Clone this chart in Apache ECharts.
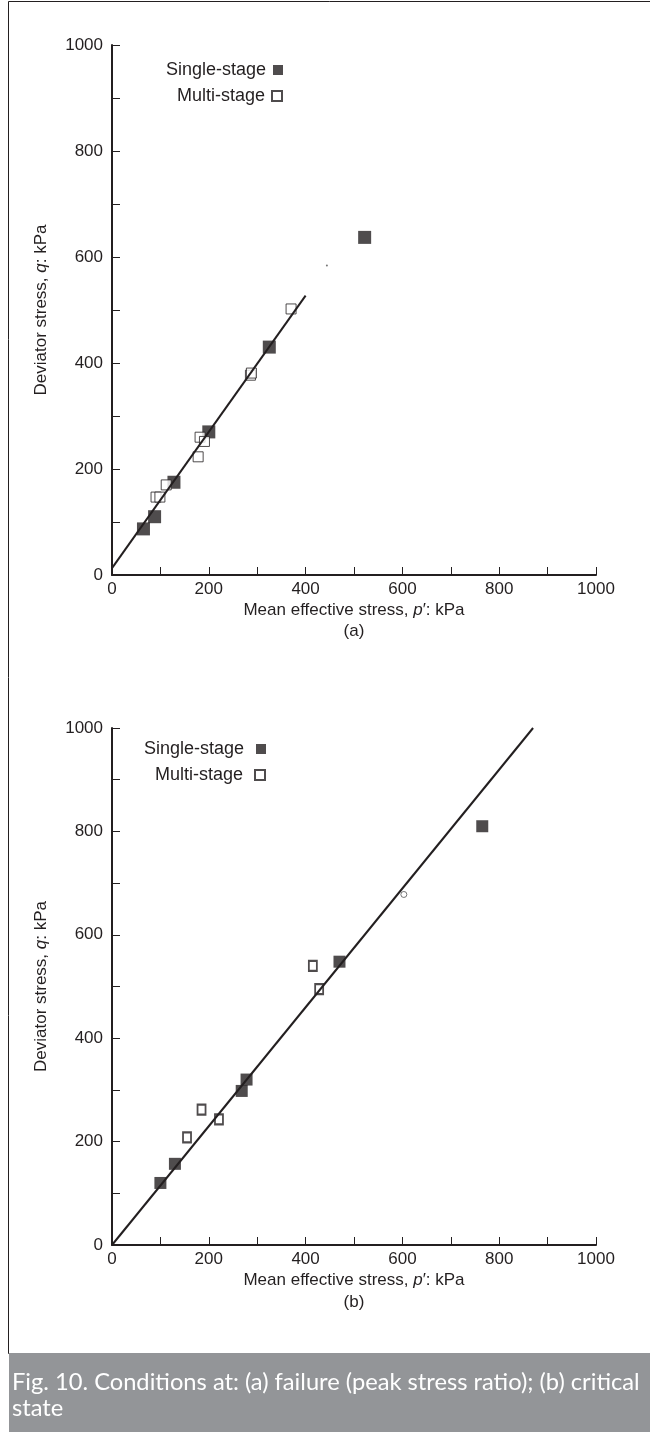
<!DOCTYPE html>
<html>
<head>
<meta charset="utf-8">
<script src="https://cdn.jsdelivr.net/npm/echarts@6/dist/echarts.min.js"></script>
<style>
  html, body { margin: 0; padding: 0; background: #fff; }
  #chart { width: 650px; height: 1432px; }
</style>
</head>
<body>
<div id="chart"></div>
<script>
// (a) failure, peak stress ratio
const singleA = [[65, 87], [88, 110], [128, 175], [200, 270], [325, 430], [522, 637]];
const multiA = [[91, 147], [99, 147], [112, 170], [178, 223], [182, 260], [191, 252], [286, 377], [288, 381], [370, 502]];
const strayA = [[444, 584]];
const lineA = [[0, 13], [400, 527]];
// (b) critical state
const singleB = [[100, 120], [130, 157], [268, 298], [278, 320], [470, 548], [765, 810]];
const multiB = [[155, 208], [185, 262], [221, 243], [415, 540], [428, 495]];
const strayB = [[603, 678]];
const lineB = [[0, 0], [870, 1000]];
const ticks = [0, 200, 400, 600, 800, 1000];

const ink = "#231f20";
const font = "Liberation Sans";

function axisX(idx) {
  return {
    gridIndex: idx, type: "value", min: 0, max: 1000, interval: 100,
    name: "{n|Mean effective stress, }{i|p}{n|\u2032: kPa}",
    nameLocation: "middle", nameGap: 27,
    nameTextStyle: { rich: {
      n: { fontFamily: font, fontSize: 17, color: ink },
      i: { fontFamily: font, fontSize: 17, color: ink, fontStyle: "italic" } } },
    axisLine: { lineStyle: { color: ink, width: 2 } },
    axisTick: { inside: true, length: 8, lineStyle: { color: ink, width: 1 } },
    axisLabel: { fontFamily: font, fontSize: 17, color: ink, margin: 6,
      formatter: (v) => ticks.includes(v) ? v : "" },
    splitLine: { show: false },
  };
}
function axisY(idx) {
  return {
    gridIndex: idx, type: "value", min: 0, max: 1000, interval: 100,
    name: "{n|Deviator stress, }{i|q}{n|: kPa}",
    nameLocation: "middle", nameGap: 62,
    nameTextStyle: { rich: {
      n: { fontFamily: font, fontSize: 17, color: ink },
      i: { fontFamily: font, fontSize: 17, color: ink, fontStyle: "italic" } } },
    axisLine: { lineStyle: { color: ink, width: 2 } },
    axisTick: { inside: true, length: 8, lineStyle: { color: ink, width: 1 } },
    axisLabel: { fontFamily: font, fontSize: 17, color: ink, margin: 9,
      formatter: (v) => ticks.includes(v) ? v : "" },
    splitLine: { show: false },
  };
}

function legendItem(name, right, top, thick) {
  const item = thick ? { name: name, itemStyle: { borderWidth: 2 } } : name;
  return { data: [item], right: right, top: top, align: "right", itemWidth: 10, itemHeight: 10,
    textStyle: { fontFamily: font, fontSize: 18, color: ink, padding: [0, 2, 0, 0] } };
}

const chart = echarts.init(document.getElementById("chart"), null, { renderer: "canvas" });
chart.setOption({
  backgroundColor: "#fff",
  animation: false,
  grid: [
    { left: 112, right: 54, top: 45, height: 530 },
    { left: 112, right: 54, top: 728, height: 517 },
  ],
  xAxis: [axisX(0), axisX(1)],
  yAxis: [axisY(0), axisY(1)],
  legend: [
    legendItem("Single-stage", 362, 56),
    legendItem("Multi-stage", 362, 82, true),
    legendItem("Single-stage ", 379, 735),
    legendItem("Multi-stage ", 379, 761),
  ],
  graphic: [
    { type: "rect", shape: { x: 8.5, y: 1.5, width: 645, height: 1352 },
      style: { fill: "none", stroke: ink, lineWidth: 1 } },
    { type: "rect", shape: { x: 9, y: 1353, width: 641, height: 79 },
      style: { fill: "#939598" } },
    { type: "text", left: 12, top: 1369,
      style: { text: "Fig. 10. Conditions at: (a) failure (peak stress ratio); (b) critical\nstate",
        fill: "#fff", font: "23.7px Lato", lineHeight: 26 } },
    { type: "text", x: 354, y: 631,
      style: { text: "(a)", fill: ink, font: "17px 'Liberation Sans'", align: "center", verticalAlign: "middle" } },
    { type: "text", x: 354, y: 1302,
      style: { text: "(b)", fill: ink, font: "17px 'Liberation Sans'", align: "center", verticalAlign: "middle" } },
  ],
  series: [
    { type: "line", xAxisIndex: 0, yAxisIndex: 0, data: lineA, symbol: "none",
      lineStyle: { color: ink, width: 2 }, silent: true },
    { name: "Single-stage", type: "scatter", xAxisIndex: 0, yAxisIndex: 0, data: singleA,
      symbol: "rect", symbolSize: 13, itemStyle: { color: ink } },
    { name: "Multi-stage", type: "scatter", xAxisIndex: 0, yAxisIndex: 0, data: multiA,
      symbol: "rect", symbolSize: 10, itemStyle: { color: "#fff", borderColor: ink, borderWidth: 1 } },
    { type: "scatter", xAxisIndex: 0, yAxisIndex: 0, data: strayA,
      symbol: "circle", symbolSize: 2, itemStyle: { color: "#555" } },
    { type: "line", xAxisIndex: 1, yAxisIndex: 1, data: lineB, symbol: "none",
      lineStyle: { color: ink, width: 2 }, silent: true },
    { name: "Single-stage ", type: "scatter", xAxisIndex: 1, yAxisIndex: 1, data: singleB,
      symbol: "rect", symbolSize: 12, itemStyle: { color: ink } },
    { name: "Multi-stage ", type: "scatter", xAxisIndex: 1, yAxisIndex: 1, data: multiB,
      symbol: "rect", symbolSize: [8, 10], itemStyle: { color: "#fff", borderColor: ink, borderWidth: 2 } },
    { type: "scatter", xAxisIndex: 1, yAxisIndex: 1, data: strayB,
      symbol: "circle", symbolSize: 6, itemStyle: { color: "#fff", borderColor: "#555", borderWidth: 1 } },
  ],
});
</script>
</body>
</html>
